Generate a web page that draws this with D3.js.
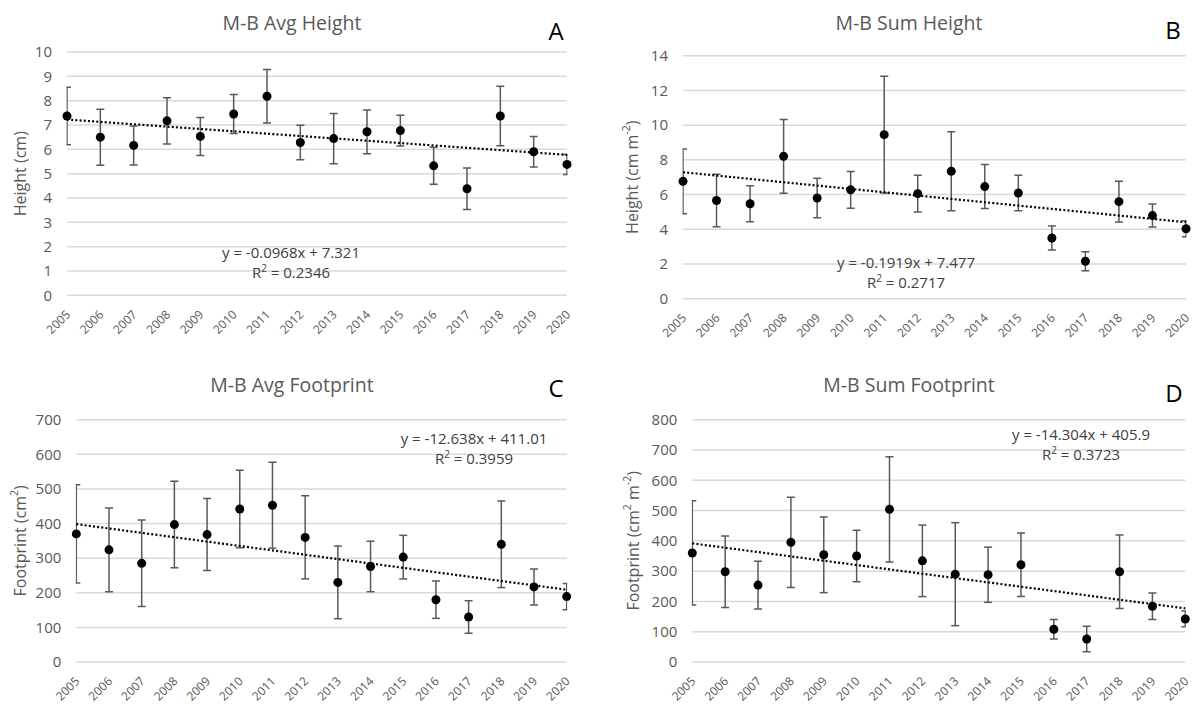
<!DOCTYPE html>
<html>
<head>
<meta charset="utf-8">
<script src="https://cdn.jsdelivr.net/npm/d3@7"></script>
<style>
  html, body { margin: 0; padding: 0; background: #fff; }
  svg { display: block; font-family: "Open Sans", "Noto Sans", sans-serif; }
</style>
</head>
<body>
<svg id="chart" width="1197" height="707"></svg>
<script>
// ---------- data ----------
const years = ["2005","2006","2007","2008","2009","2010","2011","2012","2013","2014","2015","2016","2017","2018","2019","2020"];

const avgHeightMean = [7.37,6.50,6.16,7.17,6.53,7.45,8.18,6.28,6.44,6.72,6.77,5.32,4.38,7.37,5.90,5.38];
const avgHeightErr  = [1.18,1.15,0.80,0.95,0.78,0.80,1.10,0.71,1.03,0.90,0.63,0.76,0.85,1.22,0.63,0.41];

const sumHeightMean = [6.76,5.66,5.47,8.20,5.80,6.27,9.45,6.05,7.34,6.46,6.09,3.50,2.16,5.59,4.79,4.03];
const sumHeightErr  = [1.86,1.51,1.04,2.12,1.14,1.06,3.36,1.06,2.28,1.27,1.02,0.69,0.55,1.17,0.66,0.46];

const avgFootMean = [370,324,285,397,368,442,453,360,230,276,303,180,130,340,217,189];
const avgFootErr  = [142,121,125,125,104,112,124,120,105,73,63,54,47,125,52,38];

const sumFootMean = [360,298,254,395,354,350,504,334,290,288,321,108,76,298,184,142];
const sumFootErr  = [172,118,79,149,125,85,174,118,170,91,105,32,42,121,44,26];

const panelTitles  = ["M-B Avg Height","M-B Sum Height","M-B Avg Footprint","M-B Sum Footprint"];
const panelLetters = ["A","B","C","D"];
const trendSlopes     = [-0.0968,-0.1919,-12.638,-14.304];
const trendIntercepts = [7.321,7.477,411.01,405.9];
const eqLabels = ["y = -0.0968x + 7.321","y = -0.1919x + 7.477","y = -12.638x + 411.01","y = -14.304x + 405.9"];
const r2Values = ["0.2346","0.2717","0.3959","0.3723"];
const yMaxes  = [10,14,700,800];
const yTicksA = [0,1,2,3,4,5,6,7,8,9,10];
const yTicksB = [0,2,4,6,8,10,12,14];
const yTicksC = [0,100,200,300,400,500,600,700];
const yTicksD = [0,100,200,300,400,500,600,700,800];

// ---------- layout ----------
const layouts = [
  {left:67,   right:567,   top:52,    bottom:295.3, titleX:292, titleY:30, letterX:556,  letterY:40,  eqX:291,  eqY:258, ytX:20,  },
  {left:683,  right:1186,  top:55.7,  bottom:298.7, titleX:909, titleY:30, letterX:1173, letterY:39,  eqX:906,  eqY:268, ytX:632, },
  {left:76.3, right:566.7, top:419.7, bottom:662,   titleX:292, titleY:392,letterX:556,  letterY:397, eqX:474,  eqY:444, ytX:20,  },
  {left:692.3,right:1185.3,top:419.7, bottom:662,   titleX:909, titleY:392,letterX:1174, letterY:402, eqX:1081, eqY:440, ytX:633, }
];

const panels = [
  {mean:avgHeightMean, err:avgHeightErr, ticks:yTicksA, ytitle:[["Height (cm)",0]]},
  {mean:sumHeightMean, err:sumHeightErr, ticks:yTicksB, ytitle:[["Height (cm m",0],["-2",1],[")",0]]},
  {mean:avgFootMean,   err:avgFootErr,   ticks:yTicksC, ytitle:[["Footprint (cm",0],["2",1],[")",0]]},
  {mean:sumFootMean,   err:sumFootErr,   ticks:yTicksD, ytitle:[["Footprint (cm",0],["2",1],[" m",0],["-2",1],[")",0]]}
];

const svg = d3.select("#chart");
const grey = "#595959";

panels.forEach((p, i) => {
  const L = layouts[i];
  const g = svg.append("g");
  const x = d3.scalePoint().domain(years).range([L.left, L.right]);
  const y = d3.scaleLinear().domain([0, yMaxes[i]]).range([L.bottom, L.top]);

  const clipId = "clip" + i;
  svg.append("clipPath").attr("id", clipId)
    .append("rect").attr("x", L.left - 0.5).attr("y", L.top - 40)
    .attr("width", L.right - L.left + 1).attr("height", L.bottom - L.top + 80);

  // gridlines
  g.selectAll("line.grid").data(p.ticks).join("line")
    .attr("x1", L.left).attr("x2", L.right)
    .attr("y1", d => y(d)).attr("y2", d => y(d))
    .attr("stroke", "#d9d9d9").attr("stroke-width", 1.5);

  // y tick labels
  g.selectAll("text.ytick").data(p.ticks).join("text")
    .attr("x", L.left - 15).attr("y", d => y(d)).attr("dy", "0.35em")
    .attr("text-anchor", "end").attr("font-size", 15).attr("fill", grey)
    .text(d => d);

  // x tick labels
  g.selectAll("text.xtick").data(years).join("text")
    .attr("transform", d => `translate(${x(d) + 4},${L.bottom + 20}) rotate(-45)`)
    .attr("text-anchor", "end").attr("font-size", 12).attr("fill", grey)
    .text(d => d);

  // y axis title
  const yt = g.append("text")
    .attr("transform", `translate(${L.ytX},${(L.top + L.bottom) / 2}) rotate(-90)`)
    .attr("text-anchor", "middle").attr("dominant-baseline", "central")
    .attr("font-size", 16).attr("fill", grey);
  p.ytitle.forEach(([t, sup], k) => {
    const prev = k > 0 ? p.ytitle[k - 1][1] : 0;
    const ts = yt.append("tspan").text(t);
    if (sup) ts.attr("font-size", 10.5).attr("dy", -6);
    else if (prev) ts.attr("dy", 6);
  });

  // title
  g.append("text").attr("x", L.titleX).attr("y", L.titleY)
    .attr("text-anchor", "middle").attr("font-size", 19.5).attr("fill", grey)
    .text(panelTitles[i]);

  // letter
  g.append("text").attr("x", L.letterX).attr("y", L.letterY)
    .attr("text-anchor", "middle").attr("font-size", 24).attr("fill", "#000")
    .text(panelLetters[i]);

  // error bars (clipped to plot area)
  const eb = g.append("g").attr("clip-path", `url(#${clipId})`)
    .attr("stroke", grey).attr("stroke-width", 1.5).attr("fill", "none");
  years.forEach((yr, k) => {
    const cx = x(yr), hi = y(p.mean[k] + p.err[k]), lo = y(p.mean[k] - p.err[k]);
    eb.append("line").attr("x1", cx).attr("x2", cx).attr("y1", hi).attr("y2", lo);
    eb.append("line").attr("x1", cx - 4).attr("x2", cx + 4).attr("y1", hi).attr("y2", hi);
    eb.append("line").attr("x1", cx - 4).attr("x2", cx + 4).attr("y1", lo).attr("y2", lo);
  });

  // trend line
  const trend = years.map((yr, k) => [yr, trendSlopes[i] * (k + 1) + trendIntercepts[i]]);
  g.append("path").datum(trend)
    .attr("d", d3.line().x(d => x(d[0])).y(d => y(d[1])))
    .attr("fill", "none").attr("stroke", "#000").attr("stroke-width", 2.2)
    .attr("stroke-dasharray", "2,2.2");

  // points
  g.selectAll("circle").data(years).join("circle")
    .attr("cx", d => x(d)).attr("cy", (d, k) => y(p.mean[k]))
    .attr("r", 4.5).attr("fill", "#000");

  // equation
  g.append("text").attr("x", L.eqX).attr("y", L.eqY)
    .attr("text-anchor", "middle").attr("font-size", 15).attr("fill", "#404040")
    .text(eqLabels[i]);
  const r2 = g.append("text").attr("x", L.eqX).attr("y", L.eqY + 20)
    .attr("text-anchor", "middle").attr("font-size", 15).attr("fill", "#404040");
  r2.append("tspan").text("R");
  r2.append("tspan").attr("font-size", 10).attr("dy", -6).text("2");
  r2.append("tspan").attr("dy", 6).text(" = " + r2Values[i]);
});
</script>
</body>
</html>
